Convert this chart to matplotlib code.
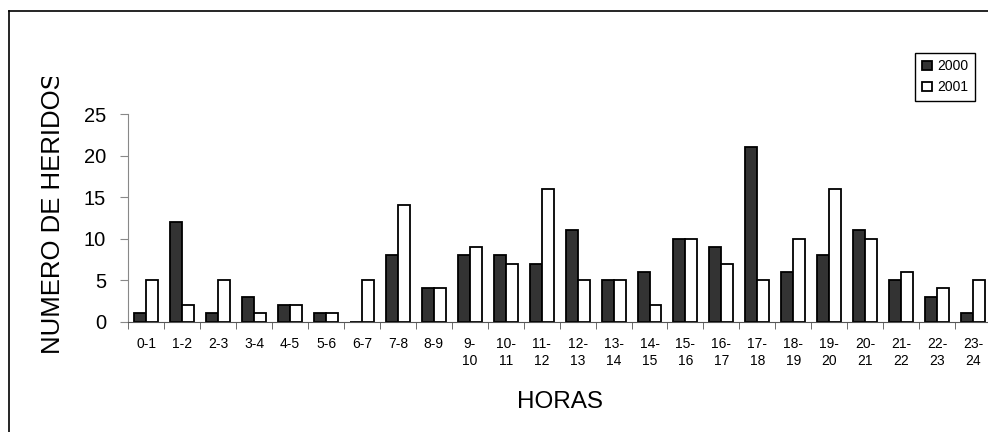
import numpy as np
import matplotlib.pyplot as plt
from matplotlib.lines import Line2D
from matplotlib.transforms import Bbox, TransformedBbox

plt.rcParams['font.family'] = ['Liberation Sans', 'DejaVu Sans']

horas = ['0-1', '1-2', '2-3', '3-4', '4-5', '5-6', '6-7', '7-8', '8-9',
         '9-\n10', '10-\n11', '11-\n12', '12-\n13', '13-\n14', '14-\n15',
         '15-\n16', '16-\n17', '17-\n18', '18-\n19', '19-\n20', '20-\n21',
         '21-\n22', '22-\n23', '23-\n24']
heridos_2000 = [1, 12, 1, 3, 2, 1, 0, 8, 4, 8, 8, 7, 11, 5, 6, 10, 9, 21, 6, 8, 11, 5, 3, 1]
heridos_2001 = [5, 2, 5, 1, 2, 1, 5, 14, 4, 9, 7, 16, 5, 5, 2, 10, 7, 5, 10, 16, 10, 6, 4, 5]

W, H = 988, 432
fig = plt.figure(figsize=(W / 100, H / 100), dpi=100)
ax = fig.add_axes([128.3 / W, 1 - 321.7 / H, (991 - 128.3) / W, 207.7 / H])

x = np.arange(len(horas))
bw = 1 / 3
ax.bar(x - bw / 2, heridos_2000, bw, color='#333333', edgecolor='black', linewidth=1.3, label='2000')
ax.bar(x + bw / 2, heridos_2001, bw, color='white', edgecolor='black', linewidth=1.3, label='2001')

ax.set_xlim(-0.5, len(horas) - 0.5)
ax.set_ylim(0, 25)
ax.set_yticks([0, 5, 10, 15, 20, 25])
ax.set_xticks(x)
ax.set_xticklabels(horas, fontsize=10, linespacing=1.25)
# tick marks sit between the categories
ax.set_xticks(np.arange(len(horas) + 1) - 0.5, minor=True)
ax.tick_params(axis='x', which='major', length=0, pad=11)
ax.tick_params(axis='x', which='minor', length=5, color='#555555', direction='out')
ax.tick_params(axis='y', length=6, color='#888888', labelsize=14.5, pad=10)

for s in ['top', 'right']:
    ax.spines[s].set_visible(False)
ax.spines['left'].set_color('#888888')
ax.spines['bottom'].set_color('#555555')

ax.set_xlabel('HORAS', fontsize=17.5, labelpad=17)

# y label, cut off at the top like in the original
ylab = fig.text(53 / W, 1 - 213 / H, 'NUMERO DE HERIDOS', rotation=90, fontsize=18.5,
                ha='center', va='center')
ylab.set_clip_box(TransformedBbox(Bbox([[0, 0], [1, 1 - 77 / H]]), fig.transFigure))
ylab.set_clip_on(True)

fig.legend(loc='upper left', bbox_to_anchor=(915 / W, 1 - 52.5 / H), fontsize=10,
           frameon=True, fancybox=False, edgecolor='black', framealpha=1,
           handlelength=0.7, handleheight=0.7, handletextpad=0.4,
           borderpad=0.5, labelspacing=0.5, borderaxespad=0)

# chart frame (only left and top edges visible)
fig.add_artist(Line2D([8.5 / W, 8.5 / W], [0, 1 - 10.5 / H], color='black', lw=1.2))
fig.add_artist(Line2D([8.5 / W, 1], [1 - 10.5 / H, 1 - 10.5 / H], color='black', lw=1.2))

fig.savefig('out.png', dpi=100)
